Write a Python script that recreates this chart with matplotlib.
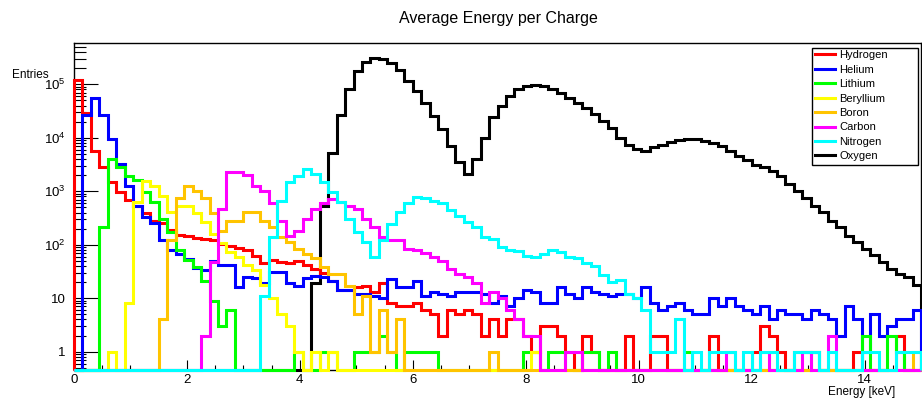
import numpy as np
import matplotlib
matplotlib.use("Agg")
import matplotlib.pyplot as plt
from matplotlib.lines import Line2D
from matplotlib.patches import Rectangle
from matplotlib.ticker import FixedLocator, LogLocator, MultipleLocator, FuncFormatter, NullFormatter

# energy binning: 100 bins of 0.15 keV between 0 and 15 keV
e_low = 0.0
e_high = 15.0
n_bins = 100

species = ["Hydrogen", "Helium", "Lithium", "Beryllium", "Boron", "Carbon", "Nitrogen", "Oxygen"]
colors = ["#ff0000", "#0000ff", "#00ff00", "#ffff00", "#ffc400", "#ff00ff", "#00ffff", "#000000"]

# counts per bin
hydrogen = [
    120000, 29000, 5700, 2800, 1500, 950, 690, 540, 400, 280,
    260, 190, 150, 145, 135, 130, 120, 105, 95, 85,
    80, 62, 46, 52, 47, 45, 49, 41, 35, 29,
    21, 14, 14, 16, 17, 13, 19, 8, 7, 7,
    8, 6, 5, 2, 6, 5, 6, 5, 2, 4,
    2, 4, 4, 2, 1, 3, 3, 2, 1, 0,
    2, 1, 0, 0, 0, 2, 0, 0, 2, 2,
    0, 0, 0, 0, 0, 2, 0, 0, 0, 0,
    1, 3, 2, 1, 0, 1, 1, 1, 0, 0,
    0, 0, 1, 0, 0, 0, 0, 2, 0, 0]
helium = [
    0, 27000, 56000, 27000, 9400, 3200, 1260, 540, 330, 260,
    120, 78, 67, 54, 36, 34, 50, 41, 42, 16,
    25, 24, 19, 31, 31, 19, 17, 24, 26, 25,
    21, 14, 14, 12, 12, 11, 10, 23, 16, 16,
    21, 11, 13, 12, 11, 13, 13, 13, 12, 8,
    11, 7, 10, 14, 13, 8, 8, 16, 12, 10,
    16, 13, 12, 11, 12, 12, 10, 16, 8, 6,
    7, 8, 6, 5, 5, 10, 7, 10, 7, 6,
    5, 7, 4, 6, 5, 5, 4, 6, 5, 4,
    2, 7, 4, 1, 5, 2, 3, 4, 4, 6]
lithium = [
    0, 0, 0, 210, 4000, 2800, 1950, 1650, 950, 620,
    300, 170, 78, 52, 38, 21, 9, 3, 6, 0,
    0, 0, 0, 0, 0, 0, 1, 0, 0, 1,
    1, 0, 0, 1, 1, 1, 2, 1, 0, 1,
    1, 1, 1, 0, 0, 0, 0, 0, 0, 0,
    0, 0, 0, 1, 1, 0, 1, 1, 0, 0,
    1, 1, 0, 1, 0, 0, 0, 0, 0, 0,
    0, 0, 1, 0, 0, 0, 0, 0, 0, 0,
    0, 0, 0, 0, 0, 0, 0, 1, 0, 0,
    0, 0, 0, 2, 0, 0, 2, 1, 0, 0]
beryllium = [
    0, 0, 0, 0, 1, 0, 8, 620, 1570, 1260,
    830, 405, 540, 540, 400, 270, 160, 110, 74, 58,
    41, 33, 18, 10, 5, 3, 1, 0, 1, 0,
    1, 0, 0, 0, 0, 0, 0, 0, 0, 0,
    0, 0, 0, 0, 0, 0, 0, 0, 0, 0,
    0, 0, 0, 0, 1, 0, 0, 0, 0, 0,
    0, 0, 0, 0, 0, 0, 0, 0, 0, 0,
    0, 0, 0, 0, 0, 0, 0, 0, 0, 0,
    0, 0, 1, 0, 0, 0, 0, 0, 0, 0,
    0, 0, 0, 0, 0, 0, 0, 0, 0, 0]
boron = [
    0, 0, 0, 0, 0, 0, 0, 0, 0, 0,
    4, 125, 740, 1260, 1030, 740, 400, 180, 280, 280,
    405, 405, 280, 213, 138, 112, 83, 67, 57, 38,
    28, 28, 17, 5, 11, 1, 6, 1, 4, 0,
    0, 0, 0, 0, 0, 0, 0, 0, 0, 1,
    0, 0, 0, 0, 0, 0, 0, 0, 0, 0,
    0, 0, 0, 0, 0, 0, 0, 0, 0, 0,
    0, 0, 0, 0, 0, 0, 0, 0, 0, 0,
    0, 0, 0, 0, 0, 0, 0, 0, 0, 0,
    0, 0, 0, 0, 0, 0, 0, 0, 0, 1]
carbon = [
    0, 0, 0, 0, 0, 0, 0, 0, 0, 0,
    0, 0, 0, 0, 0, 2, 48, 465, 2250, 2250,
    2000, 1260, 1030, 590, 280, 148, 183, 300, 465, 590,
    720, 620, 540, 465, 300, 213, 138, 120, 120, 83,
    78, 70, 60, 50, 35, 28, 25, 19, 8, 13,
    10, 6, 4, 2, 2, 0, 0, 0, 1, 1,
    0, 0, 0, 0, 0, 0, 0, 0, 0, 0,
    0, 0, 0, 0, 0, 0, 0, 1, 0, 0,
    0, 1, 0, 0, 0, 0, 1, 0, 0, 2,
    0, 0, 0, 0, 0, 0, 0, 0, 0, 0]
nitrogen = [
    0, 0, 0, 0, 0, 0, 0, 0, 0, 0,
    0, 0, 0, 0, 0, 0, 0, 0, 0, 0,
    0, 0, 11, 138, 665, 1470, 1950, 2600, 2100, 1470,
    950, 620, 300, 170, 112, 60, 120, 245, 405, 590,
    780, 750, 665, 590, 440, 350, 263, 213, 138, 128,
    90, 80, 75, 62, 60, 67, 80, 72, 60, 56,
    45, 40, 27, 20, 22, 12, 10, 6, 1, 1,
    1, 4, 0, 1, 0, 1, 1, 1, 0, 1,
    0, 1, 1, 0, 0, 1, 1, 1, 0, 1,
    0, 0, 0, 1, 1, 0, 0, 1, 1, 1]
oxygen = [
    0, 0, 0, 0, 0, 0, 0, 0, 0, 0,
    0, 0, 0, 0, 0, 0, 0, 0, 0, 0,
    0, 0, 0, 0, 0, 0, 0, 0, 19, 537,
    5200, 26500, 83000, 177000, 261000, 308000, 295000, 253000, 186000, 115000,
    75000, 45000, 25600, 14500, 6900, 3450, 2100, 4000, 10000, 24000,
    39000, 61000, 81000, 93000, 97000, 93000, 81000, 68000, 56000, 45000,
    36700, 27600, 20600, 14900, 10000, 7300, 6100, 5700, 6600, 7300,
    8400, 9100, 9400, 9400, 8800, 7900, 6900, 5700, 4600, 3900,
    3100, 2800, 2400, 1950, 1360, 1020, 750, 537, 405, 280,
    212, 148, 112, 84, 65, 48, 35, 28, 25, 18]

counts = [hydrogen, helium, lithium, beryllium, boron, carbon, nitrogen, oxygen]

y_low = 0.455
y_high = 5.9e5

plt.rcParams["font.family"] = ["Liberation Sans", "DejaVu Sans"]
plt.rcParams["mathtext.default"] = "regular"

fig = plt.figure(figsize=(9.22, 4.01), dpi=100)
ax = fig.add_axes([74 / 922, 1 - 370 / 401, 847 / 922, 327 / 401])

edges = np.linspace(e_low, e_high, n_bins + 1)

# oxygen goes in first, the lighter species are drawn on top of it
order = [7, 0, 1, 2, 3, 4, 5, 6]
for i in order:
    vals = np.array(counts[i], dtype=float)
    # empty bins sit on the bottom of the frame
    vals = np.where(vals > 0, vals, y_low)
    ax.stairs(vals, edges, baseline=y_low, color=colors[i], linewidth=2.2,
              clip_on=False, zorder=3)

ax.set_yscale("log")
ax.set_xlim(e_low, e_high)
ax.set_ylim(y_low, y_high)

# ticks drawn inside the frame, bottom and left only
ax.xaxis.set_major_locator(MultipleLocator(2))
ax.xaxis.set_minor_locator(MultipleLocator(0.5))
ax.yaxis.set_major_locator(FixedLocator([1, 10, 100, 1e3, 1e4, 1e5]))
ax.yaxis.set_minor_locator(LogLocator(base=10, subs=np.arange(2, 10), numticks=20))
ax.yaxis.set_minor_formatter(NullFormatter())


def decade_label(v, pos):
    n = int(round(np.log10(v)))
    if n == 0:
        return "1"
    if n == 1:
        return "10"
    return "10$^{%d}$" % n


ax.yaxis.set_major_formatter(FuncFormatter(decade_label))
ax.tick_params(axis="both", which="both", direction="in", top=False, right=False,
               labelsize=9.5, width=0.8, color="black")
ax.tick_params(axis="y", which="major", length=17, pad=6)
ax.tick_params(axis="y", which="minor", length=8.5)
ax.tick_params(axis="x", which="major", length=7, pad=3)
ax.tick_params(axis="x", which="minor", length=3.5)
for s in ax.spines.values():
    s.set_linewidth(1.0)

fig.text(498 / 922, 1 - 18 / 401, "Average Energy per Charge", ha="center", va="center", fontsize=11.5)
fig.text(12 / 922, 1 - 75 / 401, "Entries", ha="left", va="center", fontsize=8.5)
fig.text(895 / 922, 1 - 392 / 401, "Energy [keV]", ha="right", va="center", fontsize=8.5)

# legend box with a fixed size in the top right corner
box = Rectangle((812 / 922, 1 - 165 / 401), 106 / 922, 117 / 401, transform=fig.transFigure,
                facecolor="white", edgecolor="black", linewidth=1.0, zorder=4, clip_on=False)
ax.add_patch(box)

handles = [Line2D([0], [0], color=c, linewidth=2.2) for c in colors]
leg = ax.legend(handles, species, loc="upper left",
                bbox_to_anchor=(813 / 922, 1 - 48 / 401), bbox_transform=fig.transFigure,
                fontsize=8, frameon=False, borderpad=0.2, labelspacing=0.4,
                handlelength=1.8, handletextpad=0.35, borderaxespad=0)
leg.set_zorder(5)

fig.savefig("out.png", dpi=100)
